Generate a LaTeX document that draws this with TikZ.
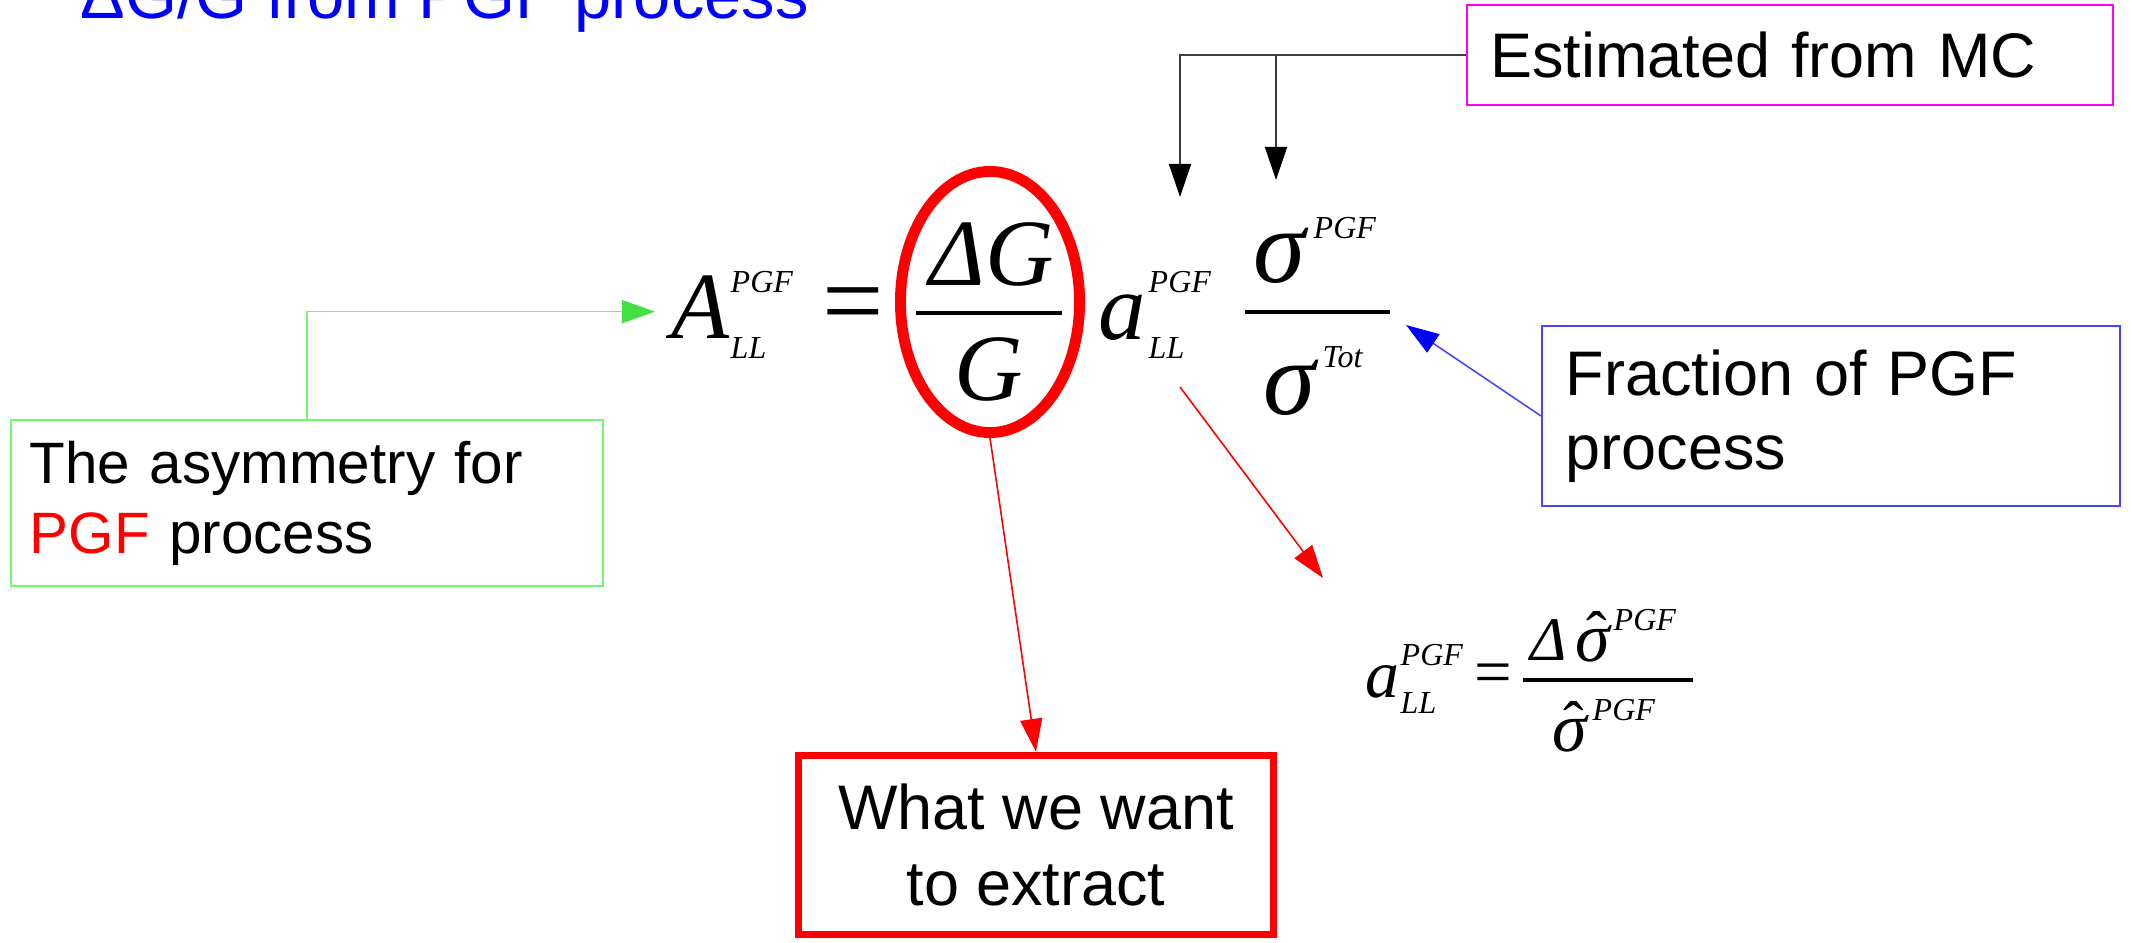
\documentclass[tikz,border=0pt]{standalone}
\usepackage{fontspec}
\setmainfont{Liberation Sans}
\newfontfamily\eqfont{Liberation Serif}
\usetikzlibrary{shapes.geometric, arrows.meta, positioning, calc}
\definecolor{titleblue}{RGB}{0,0,255}
\definecolor{mcframe}{RGB}{255,0,255}
\definecolor{asymframe}{RGB}{110,250,110}
\definecolor{asymtip}{RGB}{64,225,64}
\definecolor{fracframe}{RGB}{70,70,255}
\definecolor{fractip}{RGB}{0,0,255}
\definecolor{pgfred}{RGB}{255,0,0}
\definecolor{inkgray}{RGB}{60,60,60}

\begin{document}
\begin{tikzpicture}[
  x=0.01cm, y=-0.01cm,
  line join=miter,
]

\tikzset{
  notebox/.style={rectangle, draw, line width=0.55pt, inner sep=0pt, align=left,
    font=\fontsize{17.9}{21}\selectfont},
  extractbox/.style={rectangle, draw=pgfred, line width=2pt, inner sep=0pt,
    align=center, minimum width=4.75cm, minimum height=1.79cm,
    font=\fontsize{17.9}{21.6}\selectfont},
  ring/.style={ellipse, draw=pgfred, line width=3.1pt, inner sep=0pt,
    minimum width=1.79cm, minimum height=2.61cm},
  eqbig/.style={inner sep=0pt, anchor=base west,
    font=\eqfont\itshape\fontsize{27}{27}\selectfont},
  eqsig/.style={inner sep=0pt, anchor=base west,
    font=\eqfont\itshape\fontsize{#1}{#1}\selectfont},
  eqmid/.style={inner sep=0pt, anchor=base west,
    font=\eqfont\itshape\fontsize{17.6}{17.6}\selectfont},
  eqscript/.style={inner sep=0pt, anchor=base west,
    font=\eqfont\itshape\fontsize{9.1}{9.1}\selectfont},
  equp/.style={inner sep=0pt, anchor=base west, font=\eqfont\fontsize{#1}{#1}\selectfont},
  hatmark/.style={inner sep=0pt, anchor=base west,
    font=\eqfont\fontsize{17.6}{17.6}\selectfont},
  fracbar/.style={line width=1.3pt, black},
  mcline/.style={draw=inkgray, line width=0.45pt,
    -{Triangle[length=0.33cm, width=0.22cm, color=black]}},
  asymline/.style={draw=asymframe, line width=0.45pt,
    -{Triangle[length=0.33cm, width=0.23cm, color=asymtip]}},
  fracline/.style={draw=fracframe, line width=0.45pt,
    -{Triangle[length=0.33cm, width=0.22cm, color=fractip]}},
  redline/.style={draw=pgfred, line width=0.45pt,
    -{Triangle[length=0.33cm, width=0.22cm, color=pgfred]}},
}

\useasboundingbox (0,0) rectangle (2131,942);

% ---------------------------------------------------------------
% title (cut by the top edge)
% ---------------------------------------------------------------
\node[anchor=base west, inner sep=0pt, text=titleblue,
      font=\fontsize{19}{19}\selectfont] (title) at (80,18) {ΔG/G from PGF process};

% ---------------------------------------------------------------
% main relation
% ---------------------------------------------------------------
\node[eqbig]    (bigA)   at (671,338) {A};
\node[eqscript] (Asup)   at (730,292) {PGF};
\node[eqscript] (Asub)   at (730,358) {LL};
\node[equp=31]  (eqsign) at (822,337) {=};

\node[eqbig] (dgnum) at (929,285) {ΔG};
\node[eqbig] (dgden) at (954,400) {G};
\draw[fracbar] (916,313) -- (1062,313);
\node[ring] (dgring) at (990,302) {};

\node[eqbig]    (alow)   at (1098,339) {a};
\node[eqscript] (alsup)  at (1148,292) {PGF};
\node[eqscript] (alsub)  at (1148,358) {LL};

\node[eqsig=30] (signum)    at (1253,282) {σ};
\node[eqscript] (signumsup) at (1313,238) {PGF};
\draw[fracbar] (1245,312) -- (1390,312);
\node[eqsig=30] (sigden)    at (1263,414) {σ};
\node[eqscript] (sigdensup) at (1322,367) {Tot};

% ---------------------------------------------------------------
% definition of a_LL
% ---------------------------------------------------------------
\node[eqsig=19.3] (adef) at (1365,697) {a};
\node[eqscript] (adefsup) at (1400,665) {PGF};
\node[eqscript] (adefsub) at (1400,713) {LL};
\node[equp=19]  (eqsign2) at (1474,694) {=};

\node[eqmid]      (dnum)    at (1530,660) {Δ};
\node[eqsig=19.9] (snum)    at (1575,661) {σ};
\node[hatmark]    (snumhat) at (1586,654) {ˆ};
\node[eqscript]   (snumsup) at (1613,630) {PGF};
\draw[fracbar] (1523,680) -- (1693,680);
\node[eqsig=19.9] (sden)    at (1552,751) {σ};
\node[hatmark]    (sdenhat) at (1563,744) {ˆ};
\node[eqscript]   (sdensup) at (1592,720) {PGF};

% ---------------------------------------------------------------
% notes
% ---------------------------------------------------------------
\node[notebox, draw=mcframe, line width=0.6pt, minimum width=6.45cm, minimum height=1.0cm,
      text width=5.99cm] (mcbox) at (1790,55) {Estimated from MC};
\node[notebox, draw=asymframe, minimum width=5.92cm, minimum height=1.65cm,
      text width=5.54cm, font=\fontsize{16.6}{19.9}\selectfont]
      (asymbox) at (307,503) {The asymmetry for\\{\color{pgfred}PGF} process};
\node[notebox, draw=fracframe, line width=0.45pt, minimum width=5.78cm, minimum height=1.8cm,
      text width=5.30cm] (fracbox) at (1831,416) {Fraction of PGF\\process};
\node[extractbox] (whatbox) at (1036,845) {What we want\\to extract};

% ---------------------------------------------------------------
% pointers
% ---------------------------------------------------------------
\coordinate (mcdropA) at (1180,197);
\coordinate (mcdropB) at (1276,180);
\draw[mcline] (mcbox.west) -| (mcdropA);
\draw[mcline] (mcdropB |- mcbox.west) -- (mcdropB);

\draw[asymline, shorten >=0.16cm] (asymbox.north) |- ([yshift=-0.05cm]bigA.west);

\coordinate (fracpoint) at (1406,325);
\draw[fracline] (fracbox.west) -- (fracpoint);

\coordinate (aleave) at (1180,387);
\coordinate (aland)  at (1323,578);
\draw[redline] (aleave) -- (aland);

\draw[redline] (dgring.south) -- (whatbox.north);

\end{tikzpicture}
\end{document}
